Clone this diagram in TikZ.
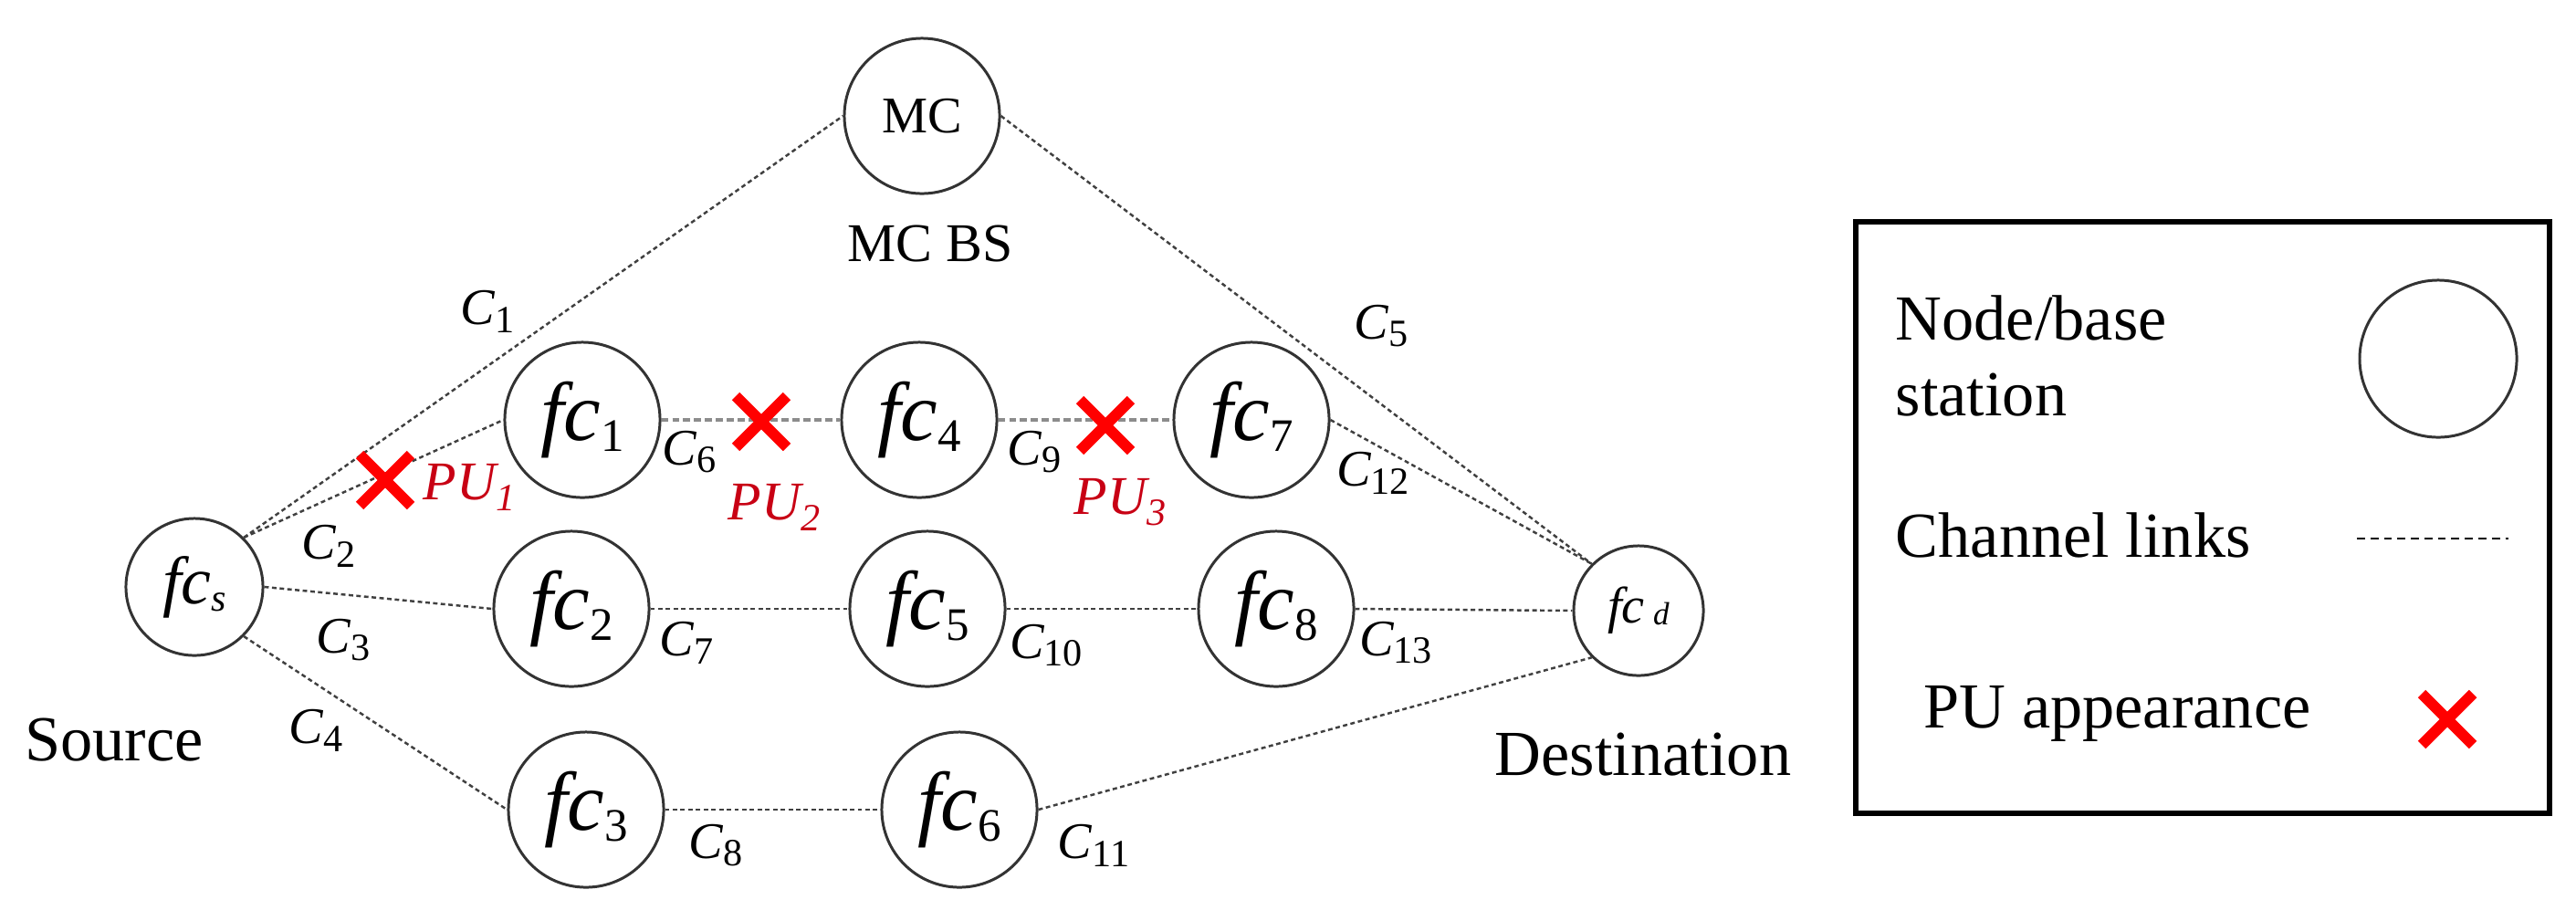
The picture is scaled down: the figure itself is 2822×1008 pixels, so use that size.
\documentclass[tikz,border=0pt]{standalone}
\usepackage{fontspec}
\setmainfont{Liberation Serif}
\usetikzlibrary{shapes.misc}
\definecolor{pured}{RGB}{200,0,20}
\definecolor{xred}{RGB}{255,0,0}
\newcommand\Cl[1]{{\fontsize{16}{16}\selectfont\itshape C}{\fontsize{12}{12}\selectfont\raisebox{-2.5pt}{#1}}}
\newcommand\fcb[1]{{\fontsize{26}{26}\selectfont\itshape fc}{\fontsize{14.5}{14.5}\selectfont\raisebox{-3.5pt}{#1}}}
\newcommand\pul[1]{{\fontsize{17}{17}\selectfont\itshape PU}{\fontsize{12}{12}\selectfont\itshape\raisebox{-3.5pt}{#1}}}
\begin{document}
\begin{tikzpicture}[x=0.01cm,y=-0.01cm,
  nd/.style={circle, draw=black!80, line width=0.85pt, minimum size=1.7cm, inner sep=0pt},
  link/.style={draw=black!75, line width=0.7pt, dash pattern=on 1.4pt off 1pt},
  glink/.style={draw=black!45, line width=1.4pt, dash pattern=on 2.2pt off 1.2pt},
  pux/.style={cross out, draw=xred, line width=3.4pt, minimum size=0.44cm, inner sep=0pt},
  lab/.style={inner sep=0pt},
  pulab/.style={inner sep=0pt, text=pured},
  txt/.style={inner sep=0pt, font=\fontsize{20}{23.6}\selectfont}]
\useasboundingbox (0,0) rectangle (2822,1008);
% nodes
\node[nd] (mc) at (1010,127) {\fontsize{16}{16}\selectfont MC};
\node[nd, minimum size=1.5cm] (fcs) at (213,643) {{\fontsize{21}{21}\selectfont\itshape fc}{\fontsize{12}{12}\selectfont\itshape\raisebox{-2.5pt}{s}}};
\node[nd] (fc1) at (638,460) {\fcb{1}};
\node[nd] (fc2) at (626,667) {\fcb{2}};
\node[nd] (fc3) at (642,887) {\fcb{3}};
\node[nd] (fc4) at (1007,460) {\fcb{4}};
\node[nd] (fc5) at (1016,667) {\fcb{5}};
\node[nd] (fc6) at (1051,887) {\fcb{6}};
\node[nd] (fc7) at (1371,460) {\fcb{7}};
\node[nd] (fc8) at (1398,667) {\fcb{8}};
\node[nd, minimum size=1.42cm] (fcd) at (1795,669) {{\fontsize{16}{16}\selectfont\itshape fc\,}{\fontsize{10}{10}\selectfont\itshape\raisebox{-0.5pt}{d}}};
% links
\draw[link] (fcs.45) -- (mc.west);
\draw[link] (fcs.45) -- (fc1.west);
\draw[link] (fcs.east) -- (fc2.west);
\draw[link] (fcs.-45) -- (fc3.west);
\draw[link] (mc.east) -- (fcd.135);
\draw[glink] (fc1.east) -- (fc4.west);
\draw[glink] (fc4.east) -- (fc7.west);
\draw[link] (fc7.east) -- (fcd.135);
\draw[link] (fc2.east) -- (fc5.west);
\draw[link] (fc5.east) -- (fc8.west);
\draw[link] (fc8.east) -- (fcd.west);
\draw[link] (fc3.east) -- (fc6.west);
\draw[link] (fc6.east) -- (fcd.225);
% PU marks
\node[pux] (x1) at (422,526) {};
\node[pux] (x2) at (834,462) {};
\node[pux] (x3) at (1211,466) {};
\node[pulab] (p1) at (514,534) {\pul{1}};
\node[pulab] (p2) at (848,556) {\pul{2}};
\node[pulab] (p3) at (1227,550) {\pul{3}};
% channel labels
\node[lab] (c1) at (534,341) {\Cl{1}};
\node[lab] (c2) at (360,598) {\Cl{2}};
\node[lab] (c3) at (376,701) {\Cl{3}};
\node[lab] (c4) at (346,800) {\Cl{4}};
\node[lab] (c5) at (1513,357) {\Cl{5}};
\node[lab] (c6) at (755,495) {\Cl{6}};
\node[lab] (c7) at (752,704) {\Cl{7}};
\node[lab] (c8) at (784,926) {\Cl{8}};
\node[lab] (c9) at (1133,495) {\Cl{9}};
\node[lab] (c10) at (1146,707) {\Cl{10}};
\node[lab] (c11) at (1198,926) {\Cl{11}};
\node[lab] (c12) at (1504,518) {\Cl{12}};
\node[lab] (c13) at (1529,704) {\Cl{13}};
% texts
\node[inner sep=0pt, font=\fontsize{17}{17}\selectfont] (mcbs) at (1019,267) {MC BS};
\node[txt, anchor=base] (src) at (125,833) {Source};
\node[txt, anchor=base] (dst) at (1800,849) {Destination};
% legend
\draw[line width=1.5pt] (2033,243) rectangle (2793,891);
\node[txt, anchor=base west, align=left] (l1) at (2076,455) {Node/base\\station};
\node[nd, minimum size=1.72cm] (lc) at (2671,393) {};
\node[txt, anchor=base west] (l2) at (2076,610) {Channel links};
\coordinate (la) at (2582,590);
\coordinate (lb) at (2748,590);
\draw[draw=black, line width=0.7pt, dash pattern=on 2.5pt off 1.7pt] (la) -- (lb);
\node[txt, anchor=base west] (l3) at (2107,797) {PU appearance};
\node[pux] (lx) at (2681,788) {};
\end{tikzpicture}
\end{document}
